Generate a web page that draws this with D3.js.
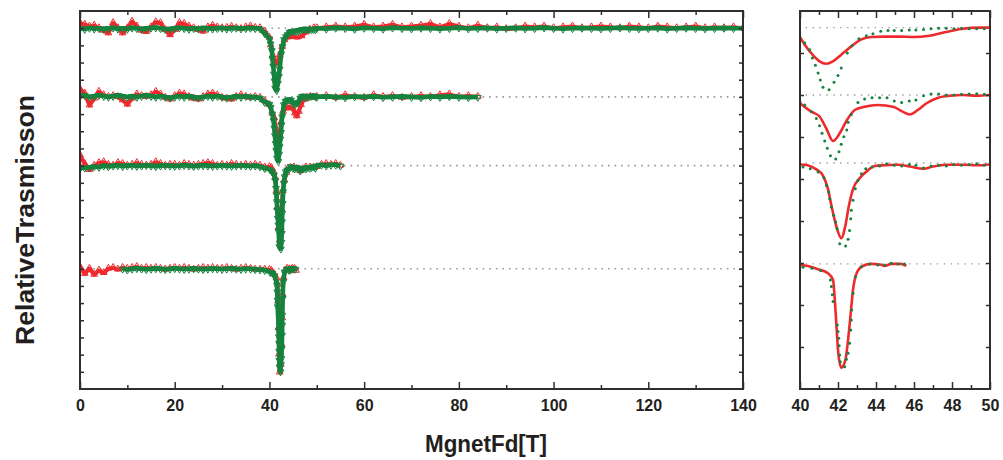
<!DOCTYPE html>
<html>
<head>
<meta charset="utf-8">
<script src="https://cdn.jsdelivr.net/npm/d3@7"></script>
<style>
  body { margin: 0; background: #fff; }
  text { font-family: "Liberation Sans", Arial, sans-serif; font-weight: bold; fill: #231f20; }
</style>
</head>
<body>
<div id="vis"></div>
<script>
// values are transmission offsets from each trace's baseline (arb. units)
const red1Low = [0.3,0.2,0.1,0.15,0.0,-0.15,-0.3,0.3,0.0,-0.3,0.0,0.38,0.1,-0.15,-0.22,0.05,0.35,0.3,-0.1,-0.4,-0.1,0.3,0.25,0.1,0.0,-0.1,-0.2,0.05,0.15,0.05,0.0,0.02,0.08,0.0,-0.05,0.05,0.1,0.02,0.0,-0.2];
const green1Low = [0.0,-0.05,0.02,-0.03,0.0,-0.05,0.0,0.03,-0.03,0.0,-0.04,0.03,0.0,-0.05,0.0,0.02,0.04,0.0,-0.05,-0.03,0.0,0.03,0.0,-0.04,0.0,-0.03,0.02,0.0,-0.03,0.0,0.02,-0.03,0.0,0.02,-0.02,0.0,0.02,0.0,-0.02,-0.3];
const red2Low = [0.45,0.2,-0.5,-0.1,0.3,0.1,0.0,0.05,0.0,-0.2,-0.45,-0.1,0.15,0.05,0.0,0.1,0.3,0.15,-0.05,-0.15,0.05,0.2,0.15,0.0,-0.1,-0.15,0.0,0.15,0.2,0.1,-0.05,-0.1,-0.15,0.0,0.1,0.0,-0.05,0.0,-0.05,-0.25];
const green2Low = [0.05,0.1,0.0,0.05,0.1,0.05,0.0,0.05,0.1,0.05,0.0,0.05,0.0,0.05,0.1,0.05,0.0,0.05,0.0,-0.05,0.0,0.05,0.0,0.05,0.0,-0.05,0.0,0.05,0.0,0.05,0.0,-0.05,0.0,0.05,0.0,0.05,0.0,0.0,-0.05,-0.3];
const red3Low = [0.6,0.1,-0.25,0.0,0.15,0.2,0.05,0.0,0.15,0.1,0.0,0.05,0.15,0.05,0.0,0.05,0.2,0.1,0.0,0.05,0.05,0.0,0.1,0.05,0.0,0.05,0.1,0.15,0.1,0.0,0.05,0.0,0.1,0.05,0.0,0.05,0.0,0.05,0.0,-0.1];
const green3Low = [-0.15,-0.12,-0.1,-0.05,-0.08,0.0,-0.05,0.0,0.02,-0.03,0.0,0.02,-0.02,0.0,0.03,0.0,-0.03,0.0,0.02,0.0,-0.02,0.0,0.03,0.0,-0.03,0.0,0.02,0.0,-0.02,0.0,0.02,0.0,-0.02,0.0,0.02,0.0,-0.02,0.0,-0.05,-0.15];
const red4Low = [0.1,-0.3,0.0,-0.35,-0.1,-0.25,0.0,0.05,-0.05,0.05,0.0,0.05,0.1,0.0,0.05,0.0,0.05,0.0,-0.05,0.0,0.05,0.0,0.05,0.0,-0.05,0.0,0.05,0.0,0.05,0.0,0.0,0.05,0.0,-0.05,0.0,0.05,0.0,-0.05,-0.05,-0.05];
const green4Low = [0.0,-0.05,0.0,0.03,0.0,-0.03,0.0,0.02,0.0,-0.03,0.0,0.03,0.0,-0.02,0.0,0.02,0.0,-0.03,0.0,0.02,0.0,-0.02,0.0,0.03,0.0,-0.02,0.0,0.0,-0.03,-0.05,-0.08];
const lowStartRed = [0, 0, 0, 0];
const lowStartGreen = [0, 0, 0, 9];

// [field (T), offset] around the resonance
const red1Dip = [[40,-0.56],[40.25,-1.0],[40.68,-1.6],[41.03,-1.96],[41.38,-2.1],[41.73,-1.96],[42.17,-1.57],[42.7,-1.09],[43.2,-0.7],[43.75,-0.54],[44.45,-0.52],[45.2,-0.52],[45.96,-0.54],[46.8,-0.47],[47.7,-0.25],[48.5,-0.08],[49.4,0.0],[50,0.0]];
const green1Dip = [[40.0,-0.6],[40.25,-0.89],[40.51,-1.28],[40.65,-1.77],[40.81,-2.19],[40.95,-2.64],[41.07,-3.05],[41.21,-3.47],[41.53,-3.61],[41.79,-3.18],[42.0,-2.78],[42.17,-2.35],[42.49,-1.47],[42.74,-1.05],[43.1,-0.64],[43.49,-0.47],[43.84,-0.35],[44.25,-0.21],[44.63,-0.17],[44.96,-0.17],[45.35,-0.17],[45.75,-0.13],[46.1,-0.13],[46.5,-0.1],[46.9,-0.06],[47.3,-0.04],[47.7,-0.04],[48.1,-0.06],[48.5,-0.04],[48.9,-0.06],[49.3,-0.06],[49.7,-0.06]];
const red2Dip = [[40,-0.48],[40.6,-0.97],[41.03,-1.25],[41.38,-1.94],[41.74,-2.68],[42.09,-2.23],[42.44,-1.51],[42.88,-0.87],[43.4,-0.68],[44.1,-0.58],[44.9,-0.68],[45.4,-0.97],[45.77,-1.13],[46.2,-0.87],[46.66,-0.48],[47.27,-0.16],[47.9,-0.04],[48.6,0],[49.3,-0.04],[50,0]];
const green2Dip = [[40.0,-0.4],[40.25,-0.58],[40.6,-0.97],[40.86,-1.36],[41.03,-1.79],[41.16,-2.23],[41.3,-2.68],[41.44,-3.1],[41.6,-3.53],[41.88,-3.73],[42.05,-3.3],[42.17,-2.87],[42.31,-2.43],[42.46,-2.04],[42.53,-1.59],[42.7,-1.13],[43.05,-0.43],[43.4,-0.23],[43.79,-0.16],[44.19,-0.16],[44.58,-0.16],[44.96,-0.35],[45.35,-0.43],[45.75,-0.35],[46.1,-0.29],[46.5,-0.04],[46.9,0.06],[47.3,0.06],[47.7,0],[48.1,0],[48.5,0.04],[48.9,0.06],[49.3,0.08],[49.7,0.04]];
const red3Dip = [[40,-0.08],[40.4,-0.13],[40.86,-0.37],[41.2,-0.72],[41.47,-1.49],[41.65,-2.46],[41.9,-3.63],[42.17,-4.37],[42.39,-3.63],[42.56,-2.56],[42.8,-1.49],[43.15,-0.87],[43.58,-0.42],[43.93,-0.17],[44.45,-0.13],[45.16,-0.1],[45.77,-0.2],[46.5,-0.33],[47.0,-0.2],[47.7,-0.1],[48.6,-0.1],[49.3,-0.13],[50,-0.08]];
const green3Dip = [[40.16,-0.23],[40.54,-0.33],[40.95,-0.52],[41.26,-0.85],[41.39,-1.3],[41.51,-1.69],[41.56,-2.07],[41.65,-2.56],[41.77,-3.04],[41.88,-3.43],[41.95,-3.82],[42.09,-4.69],[42.4,-4.83],[42.53,-4.44],[42.61,-3.92],[42.67,-3.24],[42.7,-2.75],[42.79,-2.17],[42.91,-1.49],[43.05,-1.01],[43.23,-0.62],[43.46,-0.33],[43.79,-0.23],[44.19,-0.17],[44.56,-0.04],[44.96,-0.13],[45.35,-0.17],[45.75,-0.08],[46.1,-0.13],[46.5,-0.29],[46.9,-0.17],[47.3,-0.13],[47.7,-0.17],[48.1,-0.08],[48.5,-0.13],[48.9,-0.08],[49.3,-0.04],[49.7,-0.13]];
const red4Dip = [[40,-0.06],[40.42,-0.12],[40.95,-0.31],[41.47,-0.54],[41.74,-0.93],[41.82,-1.9],[41.91,-3.45],[42.0,-5.0],[42.17,-6.04],[42.39,-5.59],[42.53,-4.42],[42.67,-2.87],[42.79,-1.51],[42.98,-0.54],[43.3,-0.12],[43.75,0],[44.2,-0.03],[44.45,-0.12],[44.8,0],[45.3,0],[45.6,-0.12]];
const green4Dip = [[40.16,-0.19],[40.63,-0.25],[41.09,-0.39],[41.6,-0.93],[41.65,-1.32],[41.7,-1.8],[41.74,-2.19],[41.96,-3.55],[42.0,-3.94],[42.04,-4.32],[42.06,-4.77],[42.09,-5.3],[42.12,-5.69],[42.35,-5.98],[42.44,-5.55],[42.53,-5.2],[42.61,-4.62],[42.67,-3.84],[42.7,-3.26],[42.72,-2.68],[42.79,-1.71],[42.91,-0.74],[43.23,-0.16],[43.67,0],[44.1,-0.06],[44.45,-0.06],[44.8,0.04],[45.16,0],[45.5,0]];

const tailT1 = d3.range(50, 141, 2);
const red1Tail = [0.0,0.05,0.1,0.05,0.1,0.2,0.05,0.1,0.2,0.05,0.1,0.15,0.25,0.05,0.25,0.1,0.0,0.15,0.0,0.05,-0.05,0.0,0.1,0.05,0.1,0.0,0.05,0.1,0.0,0.05,0.1,0.05,0.0,0.1,0.05,0.0,0.1,0.05,0.0,0.05,0.1,0.0,0.05,0.0,0.05,0.0];
const green1Tail = [0.0,-0.03,0.02,0.0,-0.04,0.02,0.0,-0.03,0.03,0.0,-0.02,0.02,0.0,-0.03,0.0,0.03,-0.02,0.0,0.02,-0.03,0.0,0.02,-0.02,0.0,0.03,0.0,-0.03,0.0,0.02,0.0,-0.02,0.0,0.03,0.0,-0.02,0.0,0.02,-0.03,0.0,0.02,0.0,-0.02,0.0,0.02,0.0,0.0];
const tailT2 = d3.range(50, 86, 2);
const red2Tail = [0.0,0.05,-0.05,0.1,0.0,-0.05,0.1,0.0,0.05,-0.05,0.0,0.05,0.0,0.1,0.15,0.0,0.05,0.0];
const green2Tail = [0.0,0.03,0.0,-0.03,0.02,0.0,0.03,-0.02,0.0,0.03,0.0,-0.03,0.02,0.0,0.03,0.0,-0.02,0.0];
const tailT3 = d3.range(50, 56, 1);
const red3Tail = [0.0,0.05,0.1,0.05,0.1,0.0];
const green3Tail = [0.0,0.05,0.0,0.05,0.05,0.0];

const baseLeft = [21, 17, 13, 7];
const baseRight = [21.03, 17.11, 13.15, 7.28];
const xMajorL = [0, 20, 40, 60, 80, 100, 120, 140];
const xMinorL = [10, 30, 50, 70, 90, 110, 130];
const xMajorR = [40, 42, 44, 46, 48, 50];
const xMinorR = [41, 43, 45, 47, 49];

const RED = "#ee2a2e";
const GREEN = "#15823e";

const svg = d3.select("#vis").append("svg").attr("width", 1003).attr("height", 460);

const plotTop = 11, plotBottom = 389;
const xL = d3.scaleLinear().domain([0, 140]).range([80, 743]);
const xR = d3.scaleLinear().domain([40, 50]).range([800, 990]);
const y = d3.scaleLinear().domain([0, 22]).range([plotBottom, plotTop]);

function build(start, low, dip, tailT, tail) {
  const pts = low.map((v, i) => [start + i, v]);
  dip.forEach((p) => pts.push(p));
  if (tailT) tail.forEach((v, i) => { if (tailT[i] > dip[dip.length - 1][0]) pts.push([tailT[i], v]); });
  return pts;
}

const curves = [
  { red: build(lowStartRed[0], red1Low, red1Dip, tailT1, red1Tail), green: build(lowStartGreen[0], green1Low, green1Dip, tailT1, green1Tail), redDip: red1Dip, greenDip: green1Dip },
  { red: build(lowStartRed[1], red2Low, red2Dip, tailT2, red2Tail), green: build(lowStartGreen[1], green2Low, green2Dip, tailT2, green2Tail), redDip: red2Dip, greenDip: green2Dip },
  { red: build(lowStartRed[2], red3Low, red3Dip, tailT3, red3Tail), green: build(lowStartGreen[2], green3Low, green3Dip, tailT3, green3Tail), redDip: red3Dip, greenDip: green3Dip },
  { red: build(lowStartRed[3], red4Low, red4Dip), green: build(lowStartGreen[3], green4Low, green4Dip), redDip: red4Dip, greenDip: green4Dip },
];

svg.append("clipPath").attr("id", "clipL").append("rect")
  .attr("x", 80).attr("y", plotTop).attr("width", 663).attr("height", plotBottom - plotTop);
svg.append("clipPath").attr("id", "clipR").append("rect")
  .attr("x", 800).attr("y", plotTop).attr("width", 190).attr("height", plotBottom - plotTop);

// ---- left panel
const gL = svg.append("g").attr("clip-path", "url(#clipL)");
const tri = d3.symbol(d3.symbolTriangle).size(20);

curves.forEach((c, i) => {
  const b = baseLeft[i];
  gL.append("line")
    .attr("x1", xL(0)).attr("x2", xL(140))
    .attr("y1", y(b)).attr("y2", y(b))
    .attr("stroke", "#999").attr("stroke-width", 1.6)
    .attr("stroke-dasharray", "1.6,5");
  const line = d3.line().x((d) => xL(d[0])).y((d) => y(b + d[1]));

  gL.append("path").datum(c.red).attr("d", line)
    .attr("fill", "none").attr("stroke", RED).attr("stroke-width", 4)
    .attr("stroke-linejoin", "round");
  gL.selectAll(null).data(c.red).join("path")
    .attr("d", tri)
    .attr("transform", (d) => `translate(${xL(d[0])},${y(b + d[1]) - 0.5})`)
    .attr("fill", "none").attr("stroke", RED).attr("stroke-width", 1);

  gL.append("path").datum(c.green).attr("d", line)
    .attr("fill", "none").attr("stroke", GREEN).attr("stroke-width", 4.6)
    .attr("stroke-linejoin", "round");
  gL.selectAll(null).data(c.green).join("path")
    .attr("d", tri)
    .attr("transform", (d) => `translate(${xL(d[0])},${y(b + d[1]) + 0.5}) rotate(180)`)
    .attr("fill", "none").attr("stroke", GREEN).attr("stroke-width", 1);
});

// ---- right panel
const gR = svg.append("g").attr("clip-path", "url(#clipR)");
curves.forEach((c, i) => {
  const b = baseRight[i];
  gR.append("line")
    .attr("x1", xR(40.3)).attr("x2", xR(50))
    .attr("y1", y(b)).attr("y2", y(b))
    .attr("stroke", "#999").attr("stroke-width", 1.4)
    .attr("stroke-dasharray", "1.4,5.5");
  gR.append("path").datum(c.redDip)
    .attr("d", d3.line().curve(d3.curveMonotoneX).x((d) => xR(d[0])).y((d) => y(b + d[1])))
    .attr("fill", "none").attr("stroke", RED).attr("stroke-width", 2.6);
  gR.selectAll(null).data(c.greenDip).join("circle")
    .attr("cx", (d) => xR(d[0])).attr("cy", (d) => y(b + d[1]))
    .attr("r", 1.5).attr("fill", GREEN);
});

// ---- axes
function styleAxis(g) {
  g.select(".domain").remove();
  g.selectAll("line").attr("stroke", "#2f2f2f").attr("stroke-width", 1.5);
  g.selectAll("text").style("font-size", "16px").attr("fill", "#231f20");
}

function frame(x, majors, minors, yTicks) {
  const [x0, x1] = x.range();
  svg.append("g").attr("transform", `translate(0,${plotBottom})`)
    .call(d3.axisBottom(x).tickValues(majors).tickSize(-7).tickSizeOuter(0).tickPadding(11).tickFormat(d3.format("d")))
    .call(styleAxis);
  svg.append("g").attr("transform", `translate(0,${plotBottom})`)
    .call(d3.axisBottom(x).tickValues(minors).tickSize(-4).tickSizeOuter(0).tickFormat(""))
    .call(styleAxis);
  svg.append("g").attr("transform", `translate(0,${plotTop})`)
    .call(d3.axisTop(x).tickValues(majors).tickSize(-7).tickSizeOuter(0).tickFormat(""))
    .call(styleAxis);
  svg.append("g").attr("transform", `translate(0,${plotTop})`)
    .call(d3.axisTop(x).tickValues(minors).tickSize(-4).tickSizeOuter(0).tickFormat(""))
    .call(styleAxis);
  svg.append("g").attr("transform", `translate(${x0},0)`)
    .call(d3.axisLeft(y).tickValues(yTicks).tickSize(-4).tickSizeOuter(0).tickFormat(""))
    .call(styleAxis);
  svg.append("g").attr("transform", `translate(${x1},0)`)
    .call(d3.axisRight(y).tickValues(yTicks).tickSize(-4).tickSizeOuter(0).tickFormat(""))
    .call(styleAxis);
  svg.append("rect")
    .attr("x", x0).attr("y", plotTop).attr("width", x1 - x0).attr("height", plotBottom - plotTop)
    .attr("fill", "none").attr("stroke", "#2f2f2f").attr("stroke-width", 2);
}

frame(xL, xMajorL, xMinorL, d3.range(1, 22));
frame(xR, xMajorR, xMinorR, d3.range(1, 9).map((k) => (k * 22) / 9));

svg.append("text")
  .attr("transform", "translate(34,220) rotate(-90)")
  .attr("text-anchor", "middle")
  .attr("textLength", 250).attr("lengthAdjust", "spacingAndGlyphs")
  .style("font-size", "25px")
  .text("RelativeTrasmisson");

svg.append("text")
  .attr("x", 486).attr("y", 452)
  .attr("text-anchor", "middle")
  .attr("textLength", 122).attr("lengthAdjust", "spacingAndGlyphs")
  .style("font-size", "24px")
  .text("MgnetFd[T]");
</script>
</body>
</html>
